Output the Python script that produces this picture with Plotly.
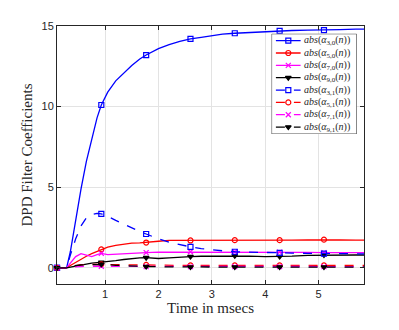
# DPD filter coefficient convergence over time
import plotly.graph_objects as go

# time axis (msecs)
t = [0.10, 0.20, 0.28, 0.35, 0.45, 0.55, 0.65, 0.75, 0.85, 0.93, 1.05, 1.20, 1.35, 1.50, 1.65, 1.77,
     2.00, 2.20, 2.40, 2.60, 2.80, 3.00, 3.20, 3.43, 3.70, 4.00, 4.27, 4.50, 4.80, 5.10, 5.40, 5.70, 5.85]

# indices where markers are drawn
marker_idx = [0, 9, 15, 19, 23, 26, 29]

# coefficient magnitudes
a30 = [0, 0, 0, 1.0, 3.0, 4.9, 6.6, 8.0, 9.3, 10.1, 10.9, 11.6, 12.1, 12.55, 12.95, 13.2,
       13.6, 13.85, 14.05, 14.2, 14.3, 14.4, 14.5, 14.55, 14.6, 14.65, 14.7, 14.72, 14.75, 14.75, 14.78, 14.8, 14.8]
a50 = [0, 0, 0, 0.15, 0.35, 0.55, 0.72, 0.88, 1.02, 1.15, 1.28, 1.4, 1.48, 1.53, 1.55, 1.57,
       1.65, 1.7, 1.7, 1.7, 1.69, 1.7, 1.72, 1.72, 1.71, 1.71, 1.72, 1.72, 1.74, 1.75, 1.73, 1.72, 1.72]
a70 = [0, 0, 0, 0.3, 0.7, 0.88, 0.78, 0.7, 0.82, 0.9, 0.82, 0.85, 0.9, 0.93, 0.95, 0.95,
       0.98, 0.98, 1.0, 1.0, 1.0, 1.0, 1.0, 1.0, 0.99, 0.98, 0.98, 0.97, 0.96, 0.95, 0.95, 0.95, 0.95]
a90 = [0, 0, 0, 0.05, 0.12, 0.2, 0.25, 0.3, 0.33, 0.35, 0.37, 0.45, 0.52, 0.58, 0.62, 0.63,
       0.58, 0.62, 0.68, 0.7, 0.72, 0.73, 0.75, 0.75, 0.73, 0.7, 0.7, 0.73, 0.78, 0.8, 0.8, 0.8, 0.8]
a31 = [0, 0, 0, 0.8, 1.8, 2.6, 3.1, 3.3, 3.38, 3.35, 3.2, 2.95, 2.7, 2.45, 2.25, 2.1,
       1.8, 1.6, 1.45, 1.3, 1.2, 1.12, 1.06, 1.0, 0.97, 0.95, 0.93, 0.92, 0.9, 0.88, 0.87, 0.87, 0.87]
a51 = [0, 0, 0, 0.08, 0.15, 0.2, 0.21, 0.22, 0.22, 0.22, 0.21, 0.2, 0.19, 0.19, 0.18, 0.18,
       0.17, 0.16, 0.16, 0.15, 0.15, 0.15, 0.15, 0.15, 0.15, 0.15, 0.15, 0.15, 0.15, 0.15, 0.15, 0.15, 0.15]
a71 = [0, 0, 0, 0.05, 0.08, 0.1, 0.1, 0.1, 0.1, 0.1, 0.1, 0.09, 0.09, 0.08, 0.08, 0.08,
       0.08, 0.08, 0.08, 0.08, 0.08, 0.08, 0.08, 0.08, 0.08, 0.08, 0.08, 0.08, 0.08, 0.08, 0.08, 0.08, 0.08]
a91 = [0, 0, 0, 0.1, 0.15, 0.18, 0.2, 0.21, 0.22, 0.22, 0.2, 0.16, 0.13, 0.1, 0.09, 0.08,
       0.07, 0.06, 0.06, 0.05, 0.05, 0.05, 0.05, 0.05, 0.05, 0.05, 0.05, 0.05, 0.05, 0.05, 0.05, 0.05, 0.05]

series = [
    ("3,0", a30, "#0000ff", "solid", "square-open"),
    ("5,0", a50, "#ff0000", "solid", "circle-open"),
    ("7,0", a70, "#ff00ff", "solid", "x-thin-open"),
    ("9,0", a90, "#000000", "solid", "triangle-down"),
    ("3,1", a31, "#0000ff", "dash", "square-open"),
    ("5,1", a51, "#ff0000", "dash", "circle-open"),
    ("7,1", a71, "#ff00ff", "dash", "x-thin-open"),
    ("9,1", a91, "#000000", "dash", "triangle-down"),
]

AXC = "#262626"
SERIF = "Liberation Serif, serif"

fig = go.Figure()

# a compact legend box is drawn on a second little subplot (x2/y2), one row per series
for row, (name, vals, color, dash, symbol) in enumerate(series):
    label = "<i>abs</i>(<i>α</i><sub>" + name + "</sub>(<i>n</i>))"
    mk = dict(symbol=symbol, size=5, color=color, line=dict(color=color, width=1.2))
    # curve
    fig.add_trace(go.Scatter(x=t, y=vals, mode="lines", showlegend=False, hoverinfo="skip",
                             line=dict(color=color, width=1.3, dash=dash)))
    # sparse markers
    fig.add_trace(go.Scatter(x=[t[i] for i in marker_idx], y=[vals[i] for i in marker_idx],
                             mode="markers", showlegend=False, cliponaxis=False, marker=mk))
    # legend sample
    fig.add_trace(go.Scatter(x=[4.3, 29], y=[row, row], mode="lines", showlegend=False,
                             xaxis="x2", yaxis="y2", hoverinfo="skip",
                             line=dict(color=color, width=1.3, dash=dash)))
    fig.add_trace(go.Scatter(x=[16.7], y=[row], mode="markers", showlegend=False,
                             xaxis="x2", yaxis="y2", hoverinfo="skip", marker=mk))
    fig.add_annotation(x=30.6, y=row, xref="x2", yref="y2", text=label, showarrow=False,
                       xanchor="left", yanchor="middle",
                       font=dict(family=SERIF, size=10, color=AXC))

axis_style = dict(showline=True, linecolor=AXC, linewidth=1, mirror="ticks",
                  ticks="inside", ticklen=4, tickcolor=AXC,
                  showgrid=True, gridcolor="#e3e3e3", gridwidth=1, zeroline=False,
                  tickfont=dict(family="Liberation Sans, Arial", size=11, color=AXC))

fig.update_layout(
    xaxis=dict(range=[0.1, 5.85], tickvals=[1, 2, 3, 4, 5],
               title=dict(text="Time in msecs", standoff=0,
                          font=dict(family=SERIF, size=15, color=AXC)),
               **axis_style),
    yaxis=dict(range=[-1, 15], tickvals=[0, 5, 10, 15],
               title=dict(text="DPD Filter Coefficients", standoff=5,
                          font=dict(family=SERIF, size=15, color=AXC)),
               **axis_style),
    xaxis2=dict(domain=[0.699, 0.976], range=[0, 85], anchor="y2", visible=False, fixedrange=True),
    yaxis2=dict(domain=[0.581, 0.970], range=[7.57, -0.56], anchor="x2", visible=False, fixedrange=True),
    shapes=[dict(type="rect", xref="x2", yref="y2", x0=0, x1=85, y0=-0.56, y1=7.57,
                 fillcolor="white", line=dict(color=AXC, width=1), layer="below")],
    width=391, height=322,
    margin=dict(l=49, r=35, t=15, b=46),
    plot_bgcolor="white", paper_bgcolor="white",
    showlegend=False,
)

fig.write_html("out.html")
